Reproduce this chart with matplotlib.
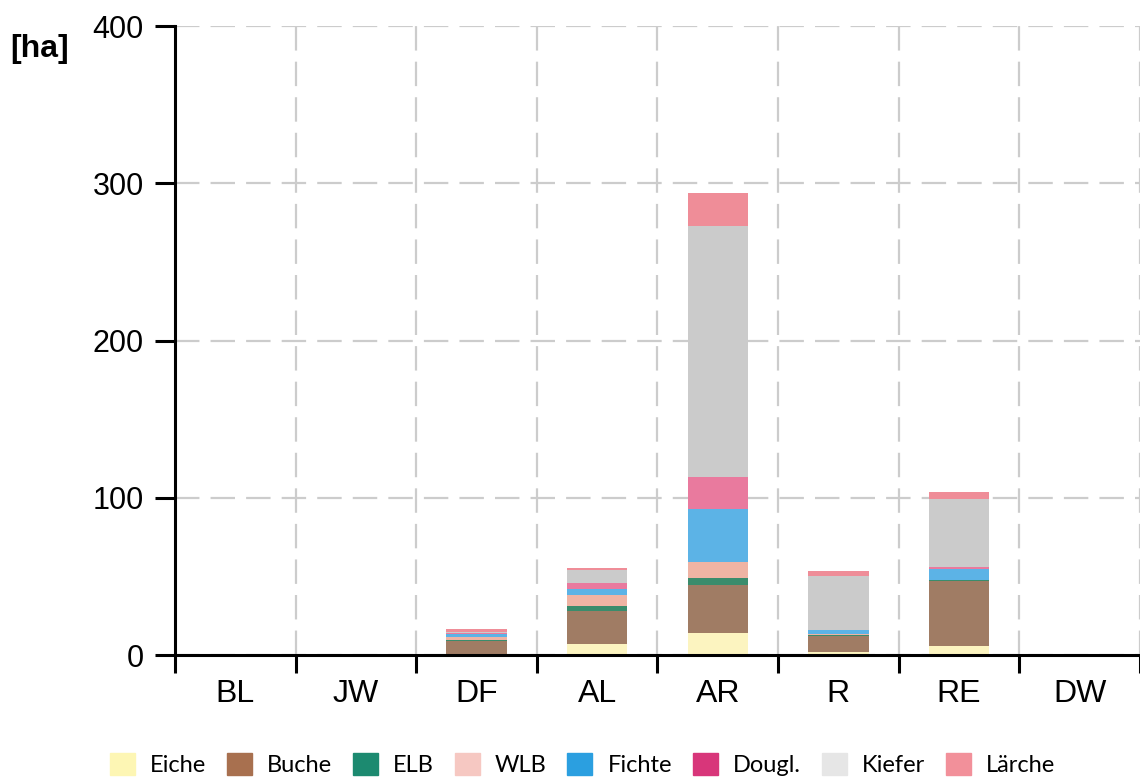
import numpy as np
import matplotlib.pyplot as plt
from matplotlib.patches import Patch

# categories and stacked areas in ha
sites = ['BL', 'JW', 'DF', 'AL', 'AR', 'R', 'RE', 'DW']
species = ['Eiche', 'Buche', 'ELB', 'WLB', 'Fichte', 'Dougl.', 'Kiefer', 'Lärche']

eiche  = [0, 0, 0.5, 7,   14,   2,   6,   0]
buche  = [0, 0, 8.5, 21,  30.5, 10,  41,  0]
elb    = [0, 0, 0.3, 3,   4.5,  0.5, 0.5, 0]
wlb    = [0, 0, 2,   7,   10,   1,   0.5, 0]
fichte = [0, 0, 2,   4,   34,   2.5, 7,   0]
dougl  = [0, 0, 1,   4,   20,   0,   1,   0]
kiefer = [0, 0, 0.5, 8,   160,  34,  43,  0]
laerche = [0, 0, 1.5, 1.5, 20.5, 3.5, 4.5, 0]

series = [eiche, buche, elb, wlb, fichte, dougl, kiefer, laerche]
bar_cols = ['#fcf4c0', '#a07c64', '#3a8c6c', '#efb4a4', '#5cb3e6', '#e97a9e', '#cbcbcb', '#ef8d98']
leg_cols = ['#fdf6b4', '#a8704f', '#1c8a70', '#f6c8c2', '#2b9fe0', '#d8367a', '#e6e6e6', '#f2909a']

fig = plt.figure(figsize=(11.4, 7.81), dpi=100)
ax = fig.add_axes([0.1535, 0.1613, 0.8465, 0.8054])

x = np.arange(len(sites))
bottom = np.zeros(len(sites))
for vals, c in zip(series, bar_cols):
    ax.bar(x, vals, width=0.5, bottom=bottom, color=c, zorder=3)
    bottom += np.array(vals)

ax.set_xlim(-0.5, 7.5)
ax.set_ylim(0, 400)

# boundaries as major ticks (grid + tick marks), centers as minor ticks (labels)
ax.set_xticks(np.arange(-0.5, 8, 1))
ax.set_xticklabels([])
ax.set_xticks(x, minor=True)
ax.set_xticklabels(sites, minor=True, fontsize=23, family='Liberation Sans')
ax.tick_params(axis='x', which='major', length=13, width=2.2, direction='out')
ax.tick_params(axis='x', which='minor', length=0, pad=17)

ax.set_yticks([0, 100, 200, 300, 400])
ax.tick_params(axis='y', length=14.5, width=2.2, pad=8, labelsize=22)
for lab in ax.get_yticklabels():
    lab.set_family('Liberation Sans')

ax.grid(True, which='major', color='#cccccc', linewidth=1.6, dashes=(11, 5), zorder=0)
for s in ['top', 'right']:
    ax.spines[s].set_visible(False)
ax.spines['left'].set_linewidth(2.2)
ax.spines['bottom'].set_linewidth(2.2)
ax.spines['bottom'].set_zorder(4)

fig.text(0.009, 0.937, '[ha]', fontsize=23, fontweight='bold',
         family='Liberation Sans', va='center')

handles = [Patch(color=c) for c in leg_cols]
fig.legend(handles, species, loc='center', bbox_to_anchor=(0.511, 0.0205), ncol=8,
           frameon=False, handlelength=1.05, handleheight=1.05, handletextpad=0.65,
           columnspacing=0.88, prop={'family': 'Lato', 'size': 17})

fig.savefig('out.png', dpi=100)
